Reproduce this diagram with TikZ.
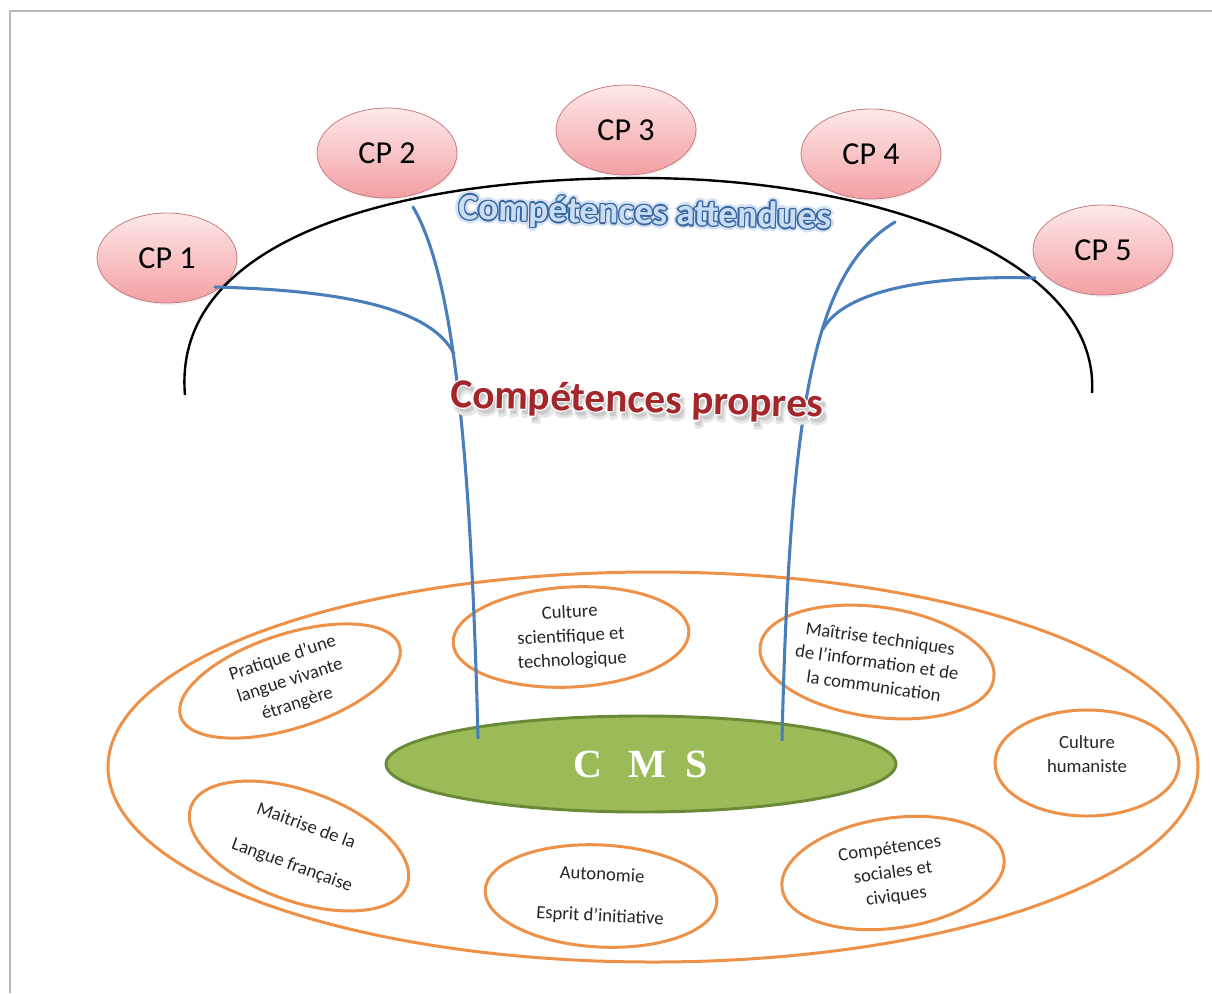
\documentclass[tikz,border=0pt]{standalone}
\usepackage{fontspec}
\setmainfont{Carlito}
\newfontfamily\cmsfont{Liberation Serif}
\usetikzlibrary{shapes.geometric,shadows,calc}

\definecolor{framegray}{HTML}{B8B8B8}
\definecolor{cpline}{HTML}{C47E82}
\definecolor{cptop}{HTML}{FDE9E9}
\definecolor{cpbot}{HTML}{F39FA3}
\definecolor{linkblue}{HTML}{4A7EBB}
\definecolor{ringorange}{HTML}{EE9148}
\definecolor{cmsfill}{HTML}{9BBB59}
\definecolor{cmsline}{HTML}{6B8A38}
\definecolor{attfill}{HTML}{C9DDF2}
\definecolor{attline}{HTML}{36659F}
\definecolor{attglow}{HTML}{D3E1F2}
\definecolor{propred}{HTML}{A3262B}
\definecolor{propshadeout}{HTML}{E6E6E6}
\definecolor{propshade}{HTML}{CBCBCB}

% one copy of a text, shifted, taking no width
\newcommand\shiftedcopy[4]{\rlap{\kern#2\raisebox{#3}{\textcolor{#1}{#4}}}}
% eight copies around the text: colour, radius, diagonal offset, text
\newcommand\halocopies[4]{%
  \shiftedcopy{#1}{#2pt}{0pt}{#4}\shiftedcopy{#1}{-#2pt}{0pt}{#4}%
  \shiftedcopy{#1}{0pt}{#2pt}{#4}\shiftedcopy{#1}{0pt}{-#2pt}{#4}%
  \shiftedcopy{#1}{#3pt}{#3pt}{#4}\shiftedcopy{#1}{-#3pt}{#3pt}{#4}%
  \shiftedcopy{#1}{#3pt}{-#3pt}{#4}\shiftedcopy{#1}{-#3pt}{-#3pt}{#4}}
% light letters with a dark edge and a soft glow
\newcommand\glowtext[1]{%
  \halocopies{attglow}{3}{2.1}{#1}%
  \halocopies{attline}{1.05}{0.75}{#1}%
  \textcolor{attfill}{#1}}
% dark letters with a pale edge and a soft cast shadow
\newcommand\shadowtext[1]{%
  \shiftedcopy{propshadeout}{4.2pt}{-5.6pt}{#1}%
  \shiftedcopy{propshadeout}{1.2pt}{-5.2pt}{#1}%
  \shiftedcopy{propshadeout}{3.6pt}{-2.4pt}{#1}%
  \shiftedcopy{propshadeout}{2.2pt}{-6.2pt}{#1}%
  \shiftedcopy{propshade}{2.4pt}{-3.8pt}{#1}%
  \shiftedcopy{propshade}{1.8pt}{-3.2pt}{#1}%
  \halocopies{white}{0.9}{0.65}{#1}%
  \textcolor{propred}{#1}}

\tikzset{
  cpnode/.style={ellipse, draw=cpline, line width=0.6pt,
    top color=cptop, bottom color=cpbot, inner sep=0pt,
    minimum width=105pt, minimum height=67.5pt,
    font=\fontsize{24}{28}\selectfont,
    drop shadow={opacity=0.12, shadow xshift=1pt, shadow yshift=-1.5pt}},
  ring/.style={ellipse, draw=ringorange, line width=2.25pt, inner sep=0pt,
    align=center, text=black!85, font=\fontsize{14}{18}\selectfont},
  bigring/.style={ellipse, draw=ringorange, line width=2.25pt, inner sep=0pt},
  cmsnode/.style={ellipse, draw=cmsline, line width=2.2pt, fill=cmsfill,
    inner sep=0pt, text=white, font=\cmsfont\bfseries\fontsize{30}{32}\selectfont},
  arcline/.style={line width=1.8pt, black},
  link/.style={line width=2.3pt, linkblue, line cap=round},
  atttext/.style={inner sep=0pt, rotate=-1.5,
    font=\bfseries\fontsize{28}{32}\selectfont},
  proptext/.style={inner sep=0pt, rotate=-1.5,
    font=\bfseries\fontsize{31}{35}\selectfont},
}

\begin{document}
\begin{tikzpicture}[x=0.75pt, y=-0.75pt]
\useasboundingbox (0,0) rectangle (1212,993);

% page frame (top and left edges)
\draw[framegray, line width=2.2pt] (10,993) -- (10,11) -- (1212,11);

% the common base
\node[bigring, minimum width=817.5pt, minimum height=292.5pt] (socle) at (653,767) {};

\node[ring, rotate=18, minimum width=172.5pt, minimum height=70.5pt] (prat) at (290,681)
  {Pratique d’une\\langue vivante\\étrangère};
\node[ring, rotate=3, minimum width=177pt, minimum height=75pt] (sci) at (571,637)
  {Culture\\scientifique et\\technologique};
\node[ring, rotate=-8, minimum width=177pt, minimum height=82.5pt] (tic) at (877,662)
  {Maîtrise techniques\\de l’information et de\\la communication};
\node[ring, minimum width=138pt, minimum height=79.5pt] (hum) at (1087,763)
  {Culture\\humaniste\\[-4pt]\mbox{}};
\node[ring, rotate=-20, minimum width=172.5pt, minimum height=82.5pt] (lang) at (299,846)
  {Maitrise de la\\[13pt]Langue française};
\node[ring, rotate=-3, minimum width=174pt, minimum height=76.5pt] (auto) at (601,896)
  {Autonomie\\[13pt]Esprit d’initiative};
\node[ring, rotate=8, minimum width=168pt, minimum height=82.5pt] (soc) at (893,873)
  {Compétences\\sociales et\\civiques};

\node[cmsnode, minimum width=382.5pt, minimum height=72pt] (cms) at (641,764)
  {C\hspace{19pt}M\hspace{15pt}S};

% expected competences
\node[cpnode] (cp1) at (167,258) {CP 1};
\node[cpnode] (cp2) at (387,153) {CP 2};
\node[cpnode] (cp3) at (626,130) {CP 3};
\node[cpnode] (cp4) at (871,154) {CP 4};
\node[cpnode] (cp5) at (1103,250) {CP 5};

% umbrella arc
\coordinate (arcL) at (185,395);
\coordinate (arcTop) at (640,178);
\coordinate (arcR) at (1092,393);
\draw[arcline] (arcL) .. controls (172,245) and (380,178) .. (arcTop)
  .. controls (880,178) and (1100,260) .. (arcR);

% stems joining the competences to the base
\coordinate (l1) at (413,207);
\coordinate (l1end) at (478,738);
\coordinate (lj) at (454,354);
\coordinate (b1) at (215,287);
\coordinate (r1) at (895,222);
\coordinate (r1end) at (782,740);
\coordinate (rj) at (823,329);
\coordinate (b5) at (1035,278);
\draw[link] (l1) .. controls (450,270) and (470,420) .. (l1end);
\draw[link] (b1) .. controls (330,290) and (430,305) .. (lj);
\draw[link] (r1) .. controls (815,270) and (790,400) .. (r1end);
\draw[link] (b5) .. controls (930,275) and (845,290) .. (rj);

% titles
\node[atttext] (att) at (645,214) {\glowtext{Compétences attendues}};
\node[proptext] (prop) at (637,405) {\shadowtext{Compétences propres}};
\end{tikzpicture}
\end{document}
